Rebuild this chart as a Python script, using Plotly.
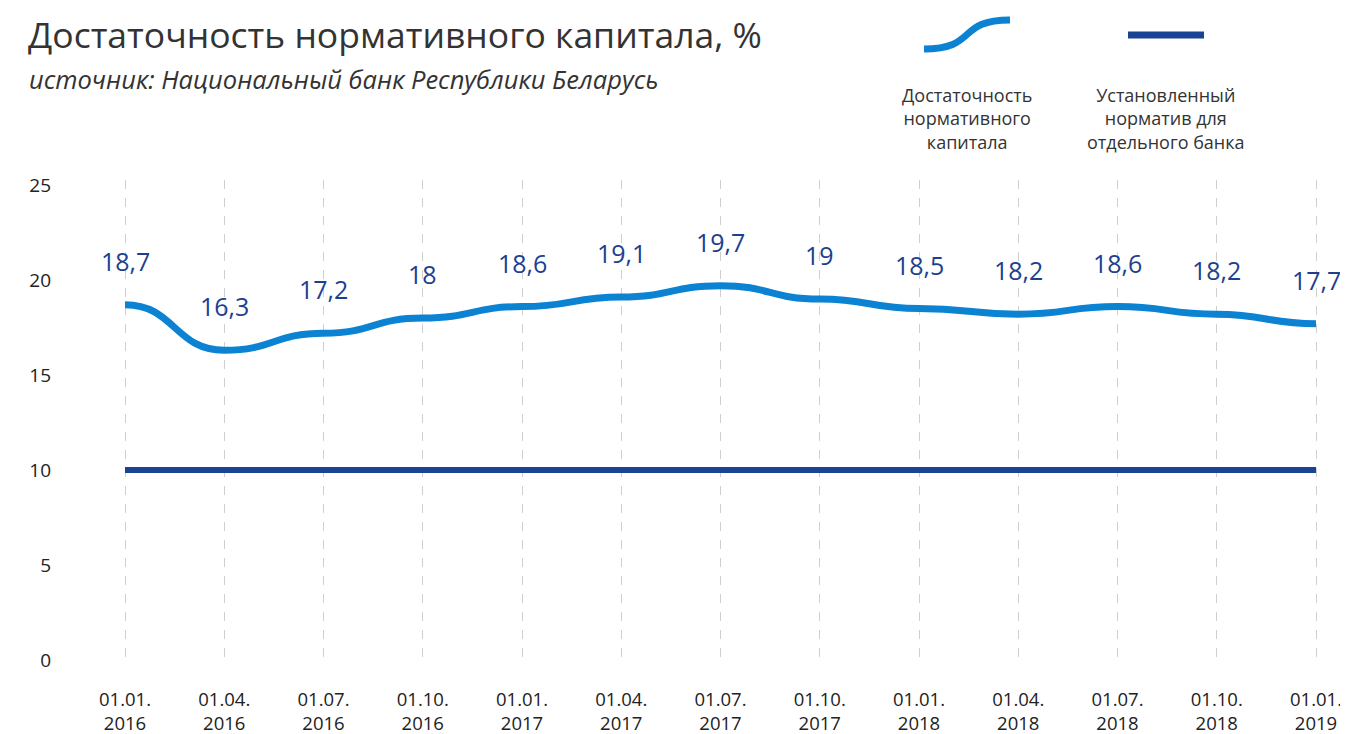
import plotly.graph_objects as go

date_labels = ["01.01.", "01.04.", "01.07.", "01.10.",
               "01.01.", "01.04.", "01.07.", "01.10.",
               "01.01.", "01.04.", "01.07.", "01.10.",
               "01.01."]
year_labels = ["2016", "2016", "2016", "2016",
               "2017", "2017", "2017", "2017",
               "2018", "2018", "2018", "2018",
               "2019"]
capital_adequacy = [18.7, 16.3, 17.2, 18.0, 18.6, 19.1, 19.7, 19.0, 18.5, 18.2, 18.6, 18.2, 17.7]
norm_value = [10] * len(date_labels)
y_ticks = [0, 5, 10, 15, 20, 25]

LIGHT = "#0b82d2"
DARK = "#1b4393"
LABEL = "#1d3f8f"
TEXT = "#333333"

OFF = 8  # page body margin
W, H = 1348 - OFF, 734 - OFF
# plot area in page pixels
PL, PR, PT, PB = 85, 1326, 180, 662
L, R, T, B = PL - OFF, W - (PR - OFF), PT - OFF, H - (PB - OFF)
pw, ph = PR - PL, PB - PT


def px_x(x):
    return (x - PL) / pw


def px_y(y):
    return (PB - y) / ph


idx = list(range(len(date_labels)))
tick_text = [f"{d}<br>{y}" for d, y in zip(date_labels, year_labels)]
fmt = [("%g" % v).replace(".", ",") for v in capital_adequacy]
step = (1316 - 125) / 12

fig = go.Figure()
fig.add_trace(go.Scatter(x=idx, y=norm_value, mode="lines",
                         line=dict(color=DARK, width=6), hoverinfo="skip"))
fig.add_trace(go.Scatter(x=idx, y=capital_adequacy, mode="markers",
                         marker=dict(size=1, color="rgba(0,0,0,0)"), hoverinfo="skip"))

# smooth curve with horizontal tangents at each data point, in data coordinates
path = f"M {idx[0]},{capital_adequacy[0]}"
for i in range(1, len(idx)):
    xa, xb = idx[i - 1], idx[i]
    ya, yb = capital_adequacy[i - 1], capital_adequacy[i]
    xm = (xa + xb) / 2
    path += f" C {xm},{ya} {xm},{yb} {xb},{yb}"
fig.add_shape(type="path", xref="x", yref="y", path=path,
              line=dict(color=LIGHT, width=7), layer="above")

for i, v, t in zip(idx, capital_adequacy, fmt):
    fig.add_annotation(x=i, y=v, text=t, showarrow=False, yshift=44,
                       font=dict(family="Open Sans", size=25, color=LABEL))

# title and subtitle
fig.add_annotation(xref="paper", yref="paper", x=px_x(26), y=px_y(34),
                   text="Достаточность нормативного капитала, %", showarrow=False,
                   xanchor="left", yanchor="middle",
                   font=dict(family="Open Sans", size=35.5, color=TEXT))
fig.add_annotation(xref="paper", yref="paper", x=px_x(27), y=px_y(79),
                   text="<i>источник: Национальный банк Республики Беларусь</i>", showarrow=False,
                   xanchor="left", yanchor="middle",
                   font=dict(family="Open Sans", size=25.5, color=TEXT))

# legend icons
x0, x1 = px_x(924), px_x(1010)
ya, yb = px_y(49), px_y(20)
fig.add_shape(type="path", xref="paper", yref="paper",
              path=f"M {x0},{ya} C {px_x(978)},{ya} {px_x(956)},{yb} {x1},{yb}",
              line=dict(color=LIGHT, width=7))
fig.add_shape(type="line", xref="paper", yref="paper",
              x0=px_x(1128), x1=px_x(1204), y0=px_y(35), y1=px_y(35),
              line=dict(color=DARK, width=7))

fig.add_annotation(xref="paper", yref="paper", x=px_x(967), y=px_y(118),
                   text="Достаточность<br>нормативного<br>капитала", showarrow=False,
                   xanchor="center", yanchor="middle", align="center",
                   font=dict(family="Open Sans", size=18, color=TEXT))
fig.add_annotation(xref="paper", yref="paper", x=px_x(1166), y=px_y(118),
                   text="Установленный<br>норматив для<br>отдельного банка", showarrow=False,
                   xanchor="center", yanchor="middle", align="center",
                   font=dict(family="Open Sans", size=18, color=TEXT))

fig.update_layout(
    width=W, height=H,
    margin=dict(l=L, r=R, t=T, b=B, autoexpand=False),
    paper_bgcolor="white", plot_bgcolor="white",
    showlegend=False,
    font=dict(family="Open Sans", color="#222222"),
)
fig.update_xaxes(
    range=[-(125 - PL) / step, 12 + (PR - 1316) / step],
    tickmode="array", tickvals=idx, ticktext=tick_text,
    showgrid=True, gridcolor="#cfcfcf", griddash="dash", gridwidth=1,
    zeroline=False, showline=False, ticks="", ticklabelstandoff=24,
    ticklabeloverflow="allow", automargin=False,
    tickfont=dict(family="Open Sans", size=18.5, color="#222222"),
)
fig.update_yaxes(
    range=[-(PB - 660) / 19, 25 + (185 - PT) / 19],
    tickmode="array", tickvals=y_ticks,
    showgrid=False, zeroline=False, showline=False, ticklabelstandoff=33,
    automargin=False,
    tickfont=dict(family="Open Sans", size=19, color="#222222"),
)

fig.write_html("out.html")
